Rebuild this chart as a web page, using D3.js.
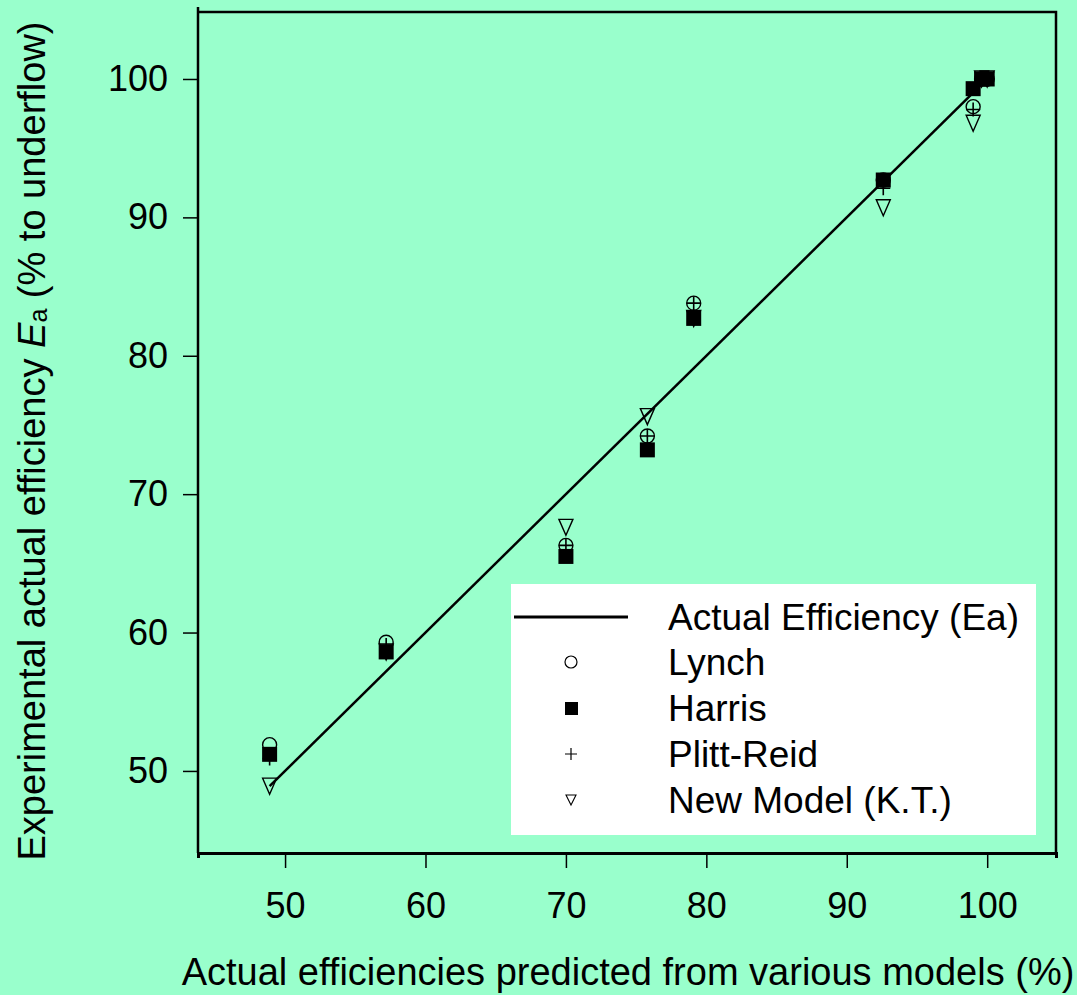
<!DOCTYPE html>
<html>
<head>
<meta charset="utf-8">
<script src="https://cdn.jsdelivr.net/npm/d3@7"></script>
<style>
  body { margin: 0; background: #99ffcc; }
  text { font-family: "Liberation Sans", Arial, sans-serif; fill: #000; }
</style>
</head>
<body>
<div id="chart"></div>
<script>
// predicted efficiencies (x) and experimental values per model (y)
const predicted = [48.9, 57.2, 70.0, 75.8, 79.1, 92.6, 99.0, 99.6, 100.0];
const lynch     = [51.9, 59.3, 66.3, 74.2, 83.8, 92.7, 98.0, 100.0, 100.0];
const harris    = [51.2, 58.6, 65.5, 73.2, 82.7, 92.7, 99.3, 100.0, 100.0];
const plittReid = [50.9, 59.1, 66.3, 74.2, 83.8, 92.1, 97.8, 100.0, 100.0];
const newModel  = [48.9, 58.6, 67.6, 75.6, 82.7, 90.7, 96.8, 100.0, 100.0];
const lineEnds  = [48.9, 100.0];
const xTicks = [50, 60, 70, 80, 90, 100];
const yTicks = [50, 60, 70, 80, 90, 100];
const legendLabels = ["Actual Efficiency (Ea)", "Lynch", "Harris", "Plitt-Reid", "New Model (K.T.)"];

const width = 1077, height = 995;

const svg = d3.select("#chart")
  .append("svg")
  .attr("width", width)
  .attr("height", height);

svg.append("rect").attr("width", width).attr("height", height).attr("fill", "#99ffcc");

const x = d3.scaleLinear().domain([43.8, 104.9]).range([198, 1056]);
const y = d3.scaleLinear().domain([44.07, 104.84]).range([853, 12]);

// frame top and right
svg.append("path")
  .attr("d", `M${x.range()[0]},${y.range()[1]}H${x.range()[1]}V${y.range()[0]}`)
  .attr("fill", "none")
  .attr("stroke", "#000")
  .attr("stroke-width", 2.5);

// x axis
const xAxis = svg.append("g")
  .attr("transform", `translate(0,${y.range()[0]})`)
  .call(d3.axisBottom(x).tickValues(xTicks).tickSize(15).tickSizeOuter(5).tickPadding(24));
xAxis.select(".domain").attr("stroke-width", 3);
xAxis.selectAll(".tick line").attr("stroke-width", 1.5);
xAxis.selectAll("text").attr("font-size", 36).attr("font-family", "Liberation Sans, Arial, sans-serif");

// y axis
const yAxis = svg.append("g")
  .attr("transform", `translate(${x.range()[0]},0)`)
  .call(d3.axisLeft(y).tickValues(yTicks).tickSize(15).tickSizeOuter(0).tickPadding(15));
yAxis.select(".domain").attr("d", `M0,7V${y.range()[0]}`).attr("stroke-width", 2.5);
yAxis.selectAll(".tick line").attr("stroke-width", 1.5);
yAxis.selectAll("text").attr("font-size", 36).attr("font-family", "Liberation Sans, Arial, sans-serif");

// axis titles
svg.append("text")
  .attr("x", 628).attr("y", 985)
  .attr("text-anchor", "middle")
  .attr("font-size", 38)
  .text("Actual efficiencies predicted from various models (%)");

const yTitle = svg.append("text")
  .attr("transform", "translate(45,441) rotate(-90)")
  .attr("text-anchor", "middle")
  .attr("font-size", 38);
yTitle.append("tspan").text("Experimental actual efficiency ");
yTitle.append("tspan").attr("font-style", "italic").text("E");
yTitle.append("tspan").attr("font-size", 25).attr("dy", 2).text("a");
yTitle.append("tspan").attr("dy", -2).text("  (% to underflow)");

// 1:1 line
svg.append("line")
  .attr("x1", x(lineEnds[0])).attr("y1", y(lineEnds[0]))
  .attr("x2", x(lineEnds[1])).attr("y2", y(lineEnds[1]))
  .attr("stroke", "#000")
  .attr("stroke-width", 2.5);

const pts = arr => predicted.map((p, i) => ({x: p, y: arr[i]}));

svg.selectAll(".newmodel")
  .data(pts(newModel))
  .enter().append("path")
  .attr("class", "newmodel")
  .attr("d", "M-7,-7L7,-7L0,9Z")
  .attr("transform", d => `translate(${x(d.x)},${y(d.y) - 1})`)
  .attr("fill", "none")
  .attr("stroke", "#000")
  .attr("stroke-width", 1.4);

svg.selectAll(".lynch")
  .data(pts(lynch))
  .enter().append("circle")
  .attr("class", "lynch")
  .attr("cx", d => x(d.x))
  .attr("cy", d => y(d.y))
  .attr("r", 7)
  .attr("fill", "none")
  .attr("stroke", "#000")
  .attr("stroke-width", 1.4);

svg.selectAll(".harris")
  .data(pts(harris))
  .enter().append("rect")
  .attr("class", "harris")
  .attr("x", d => x(d.x) - 7.5)
  .attr("y", d => y(d.y) - 7.5)
  .attr("width", 15)
  .attr("height", 15)
  .attr("fill", "#000");

svg.selectAll(".plitt")
  .data(pts(plittReid))
  .enter().append("path")
  .attr("class", "plitt")
  .attr("d", d => `M${x(d.x) - 7},${y(d.y)}h14M${x(d.x)},${y(d.y) - 7}v14`)
  .attr("stroke", "#000")
  .attr("stroke-width", 1.6);

// legend
const lg = svg.append("g");
lg.append("rect")
  .attr("x", 511).attr("y", 584)
  .attr("width", 525).attr("height", 251)
  .attr("fill", "#fff");

const rowY = [617, 662, 708, 754, 800];
lg.selectAll(".lgtext")
  .data(legendLabels)
  .enter().append("text")
  .attr("class", "lgtext")
  .attr("x", 668)
  .attr("y", (d, i) => rowY[i])
  .attr("dy", "0.35em")
  .attr("font-size", 37)
  .text(d => d);

lg.append("line")
  .attr("x1", 514).attr("x2", 628)
  .attr("y1", rowY[0]).attr("y2", rowY[0])
  .attr("stroke", "#000").attr("stroke-width", 3);
lg.append("circle")
  .attr("cx", 571).attr("cy", rowY[1]).attr("r", 6)
  .attr("fill", "none").attr("stroke", "#000").attr("stroke-width", 1.2);
lg.append("rect")
  .attr("x", 565).attr("y", rowY[2] - 6).attr("width", 13).attr("height", 13)
  .attr("fill", "#000");
lg.append("path")
  .attr("d", `M565,${rowY[3]}h12M571,${rowY[3] - 6}v12`)
  .attr("stroke", "#000").attr("stroke-width", 1.2);
lg.append("path")
  .attr("d", `M566,${rowY[4] - 5}h10l-5,10Z`)
  .attr("fill", "none").attr("stroke", "#000").attr("stroke-width", 1.1);
</script>
</body>
</html>
